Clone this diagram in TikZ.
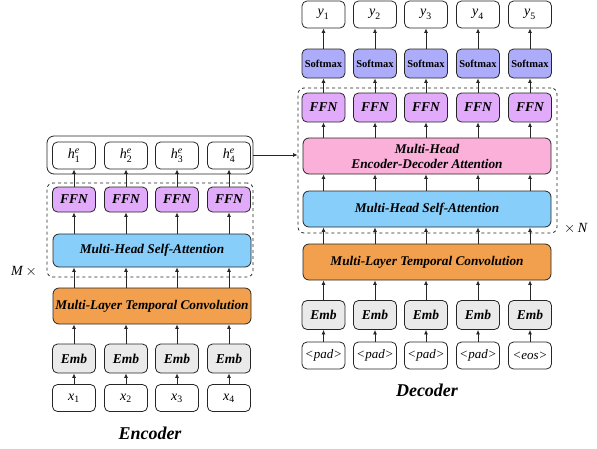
\documentclass[tikz,border=0pt]{standalone}
\usepackage{amsmath}
\usepackage{fontspec}
\setmainfont{Liberation Serif}
\usepackage{tikz}
\usetikzlibrary{arrows.meta,positioning,calc}
\definecolor{ffncol}{RGB}{226,170,250}
\definecolor{softcol}{RGB}{172,172,250}
\definecolor{attcol}{RGB}{135,206,250}
\definecolor{convcol}{RGB}{242,160,77}
\definecolor{edcol}{RGB}{250,176,216}
\definecolor{embcol}{RGB}{234,234,234}
\newcommand{\tvar}[1]{\text{\itshape #1}}
\tikzset{
  tokbox/.style ={rectangle, rounded corners=5pt, draw=black!85, line width=0.8pt,
                  fill=white, minimum width=43pt, minimum height=27pt, inner sep=0pt,
                  font=\fontsize{14}{16}\selectfont},
  embbox/.style ={tokbox, fill=embcol, minimum height=29pt,
                  font=\fontsize{13.5}{15}\selectfont\bfseries\itshape},
  ffnbox/.style ={embbox, fill=ffncol},
  softbox/.style={tokbox, fill=softcol, minimum height=29pt,
                  font=\fontsize{10.5}{12}\selectfont\bfseries},
  layer/.style  ={rectangle, rounded corners=6pt, draw=black!85, line width=0.8pt,
                  minimum height=36pt, inner sep=0pt, align=center,
                  font=\fontsize{13.3}{15}\selectfont\bfseries\itshape},
  grp/.style    ={rectangle, rounded corners=6pt, draw=black!85, dashed,
                  line width=0.8pt, inner sep=0pt},
  flow/.style   ={-{Latex[length=4.5pt,width=4pt]}, line width=0.8pt, draw=black!85}
}

\begin{document}
\begin{tikzpicture}[x=1pt, y=-1pt]
  \useasboundingbox (0,0) rectangle (597,448);
  % encoder
  \foreach \i/\cx in {1/74,2/126,3/177,4/229}{
    \node[tokbox] (xE\i)  at (\cx,398)   {$\tvar{x}_{\text{\i}}$};
    \node[embbox] (embE\i) at (\cx,358.5) {Emb};
    \node[ffnbox, minimum height=25pt] (ffnE\i) at (\cx,199.5) {FFN};
    \node[tokbox] (hE\i)  at (\cx,155.5) {$\tvar{h}^{\tvar{e}}_{\text{\i}}$};
  }
  \node[layer, fill=convcol, minimum width=198pt] (convE) at (152,306) {Multi-Layer Temporal Convolution};
  \node[layer, fill=attcol, minimum width=198pt, minimum height=33pt] (attE) at (152,250.5) {Multi-Head Self-Attention};
  \node[grp, minimum width=206pt, minimum height=94pt] (blkE) at (150,230) {};
  \node[rectangle, rounded corners=7pt, draw=black!85, line width=0.8pt,
        minimum width=206pt, minimum height=38pt] (outE) at (150,155) {};
  \node[font=\fontsize{14}{16}\selectfont] (mE) at (24,272) {\textit{M}\,$\times$};
  \node[font=\fontsize{18}{20}\selectfont\bfseries\itshape] (labE) at (150,433) {Encoder};
  \foreach \i in {1,...,4}{
    \draw[flow] (xE\i) -- (embE\i);
    \draw[flow] (embE\i) -- (embE\i |- convE.south);
    \draw[flow] (embE\i |- convE.north) -- (embE\i |- attE.south);
    \draw[flow] (embE\i |- attE.north) -- (ffnE\i);
    \draw[flow] (ffnE\i) -- (hE\i);
  }
  % decoder
  \foreach \i/\cx/\tk in {1/323.5/pad,2/375/pad,3/426/pad,4/478/pad,5/530/eos}{
    \node[tokbox, font=\fontsize{13}{15}\selectfont] (tD\i) at (\cx,355.5) {\itshape<\tk>};
    \node[embbox] (embD\i) at (\cx,315)   {Emb};
    \node[ffnbox] (ffnD\i) at (\cx,107.5) {FFN};
    \node[softbox] (smD\i) at (\cx,63.5)  {Softmax};
    \node[tokbox] (yD\i)   at (\cx,14.5)  {$\tvar{y}_{\text{\i}}$};
  }
  \node[layer, fill=convcol, minimum width=248pt] (convD) at (427,262) {Multi-Layer Temporal Convolution};
  \node[layer, fill=attcol, minimum width=248pt] (attD) at (427,209) {Multi-Head Self-Attention};
  \node[layer, fill=edcol, minimum width=248pt] (edD) at (427,156) {Multi-Head\\Encoder-Decoder Attention};
  \node[grp, minimum width=259pt, minimum height=145pt] (blkD) at (427.5,160.5) {};
  \node[font=\fontsize{14}{16}\selectfont] (nD) at (576,229) {$\times$\,\textit{N}};
  \node[font=\fontsize{18}{20}\selectfont\bfseries\itshape] (labD) at (427,390) {Decoder};
  \foreach \i in {1,...,5}{
    \draw[flow] (tD\i) -- (embD\i);
    \draw[flow] (embD\i) -- (embD\i |- convD.south);
    \draw[flow] (embD\i |- convD.north) -- (embD\i |- attD.south);
    \draw[flow] (embD\i |- attD.north) -- (embD\i |- edD.south);
    \draw[flow] (embD\i |- edD.north) -- (ffnD\i);
    \draw[flow] (ffnD\i) -- (smD\i);
    \draw[flow] (smD\i) -- (yD\i);
  }
  \draw[flow] (outE.east) -- (outE.east -| blkD.west);
\end{tikzpicture}
\end{document}
